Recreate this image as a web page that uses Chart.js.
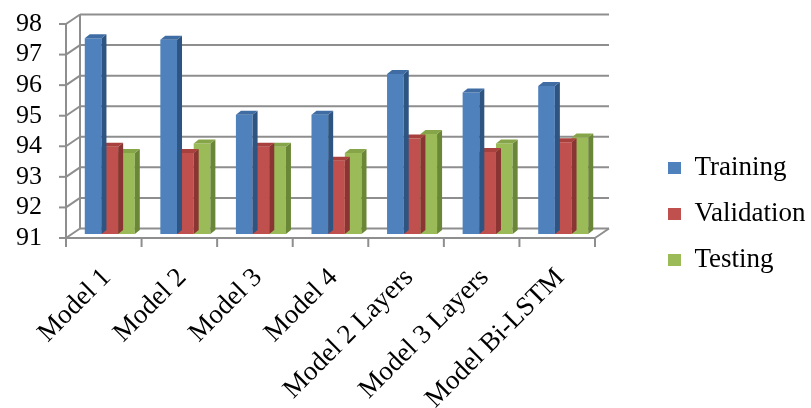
<!DOCTYPE html>
<html>
<head>
<meta charset="utf-8">
<script src="https://cdn.jsdelivr.net/npm/chart.js@4.4.1/dist/chart.umd.min.js"></script>
<style>
  html, body { margin: 0; padding: 0; background: #ffffff; }
  #wrap { width: 811px; height: 408px; }
</style>
</head>
<body>
<div id="wrap"><canvas id="c" width="811" height="408"></canvas></div>
<script>
const categories = ['Model 1', 'Model 2', 'Model 3', 'Model 4', 'Model 2 Layers', 'Model 3 Layers', 'Model Bi-LSTM'];
const seriesNames = ['Training', 'Validation', 'Testing'];
const training   = [97.40, 97.35, 94.90, 94.90, 96.23, 95.63, 95.84];
const validation = [93.85, 93.65, 93.85, 93.40, 94.12, 93.68, 94.00];
const testing    = [93.65, 93.96, 93.85, 93.65, 94.27, 93.96, 94.16];
const yMin = 91, yMax = 98, yStep = 1;

const frontColors = ['#4F81BD', '#C0504D', '#9BBB59'];
const topColors   = ['#3F6CA3', '#A8413E', '#86A548'];
const sideColors  = ['#2E5482', '#8A3533', '#6A8637'];

const FONT = "'Liberation Serif', 'Times New Roman', serif";
// 3D geometry offsets (pixels) relative to the bar plane
const FX = -6, FY = 4;     // front plane
const BX = 8, BY = -5.5;   // back wall
const DX = 5, DY = -4;     // bar depth

const frame3d = {
  id: 'frame3d',
  beforeLayout(chart) {
    const lg = chart.legend;
    if (lg && !lg.__patched) {
      const orig = lg.fit;
      lg.fit = function () { orig.call(this); this.width = 210; };
      lg.__patched = true;
    }
  },
  afterLayout(chart) {
    const lg = chart.legend;
    if (lg) {
      const pad = lg.options.labels.padding;
      lg.left = 668 - pad;
      lg.right = lg.left + lg.width;
    }
  },
  beforeDatasetsDraw(chart) {
    const ctx = chart.ctx;
    const ys = chart.scales.y, xs = chart.scales.x;
    const L = xs.left, R = xs.right;
    ctx.save();
    ctx.strokeStyle = '#8e8e8e';
    ctx.lineWidth = 2;
    ctx.lineCap = 'butt';
    const line = (x1, y1, x2, y2) => { ctx.beginPath(); ctx.moveTo(x1, y1); ctx.lineTo(x2, y2); ctx.stroke(); };
    for (let v = yMin; v <= yMax; v += yStep) {
      const y = ys.getPixelForValue(v);
      line(L + BX, y + BY, R + BX, y + BY);
      line(L + FX, y + FY, L + BX, y + BY);
      line(L + FX - 7, y + FY, L + FX, y + FY);
    }
    const y0 = ys.getPixelForValue(yMin), y1 = ys.getPixelForValue(yMax);
    line(L + FX, y0 + FY, L + FX, y1 + FY);
    line(L + BX, y0 + BY, L + BX, y1 + BY);
    line(L + FX, y0 + FY, R + FX, y0 + FY);
    line(R + FX, y0 + FY, R + BX, y0 + BY);
    const n = categories.length;
    for (let i = 0; i <= n; i++) {
      const x = L + i * (R - L) / n + FX;
      line(x, y0 + FY, x, y0 + FY + 9);
    }
    ctx.restore();
  },
  afterDatasetDraw(chart, args) {
    const ctx = chart.ctx;
    const di = args.index;
    const baseY = chart.scales.y.getPixelForValue(yMin);
    ctx.save();
    args.meta.data.forEach(el => {
      const p = el.getProps(['x', 'y', 'width'], true);
      const xl = p.x - p.width / 2, xr = p.x + p.width / 2;
      // side face
      ctx.fillStyle = sideColors[di];
      ctx.beginPath();
      ctx.moveTo(xr, p.y); ctx.lineTo(xr + DX, p.y + DY);
      ctx.lineTo(xr + DX, baseY + DY); ctx.lineTo(xr, baseY);
      ctx.closePath(); ctx.fill();
      // top face
      ctx.fillStyle = topColors[di];
      ctx.beginPath();
      ctx.moveTo(xl, p.y); ctx.lineTo(xl + DX, p.y + DY);
      ctx.lineTo(xr + DX, p.y + DY); ctx.lineTo(xr, p.y);
      ctx.closePath(); ctx.fill();
    });
    ctx.restore();
  }
};

const datasets = [training, validation, testing].map((d, i) => ({
  label: seriesNames[i],
  data: d,
  backgroundColor: frontColors[i],
  borderWidth: 0,
  categoryPercentage: 0.662,
  barPercentage: 1.0
}));

new Chart(document.getElementById('c'), {
  type: 'bar',
  data: { labels: categories, datasets },
  plugins: [frame3d],
  options: {
    responsive: false,
    animation: false,
    devicePixelRatio: 1,
    layout: { padding: { top: 20, right: 0, bottom: 0, left: 0 } },
    plugins: {
      legend: {
        position: 'right',
        align: 'center',
        labels: {
          boxWidth: 13,
          boxHeight: 12,
          padding: 19,
          color: '#000000',
          font: { family: FONT, size: 27 }
        }
      },
      tooltip: { enabled: false }
    },
    scales: {
      x: {
        grid: { display: false, drawTicks: false },
        border: { display: false },
        ticks: {
          autoSkip: false,
          maxRotation: 45,
          minRotation: 45,
          padding: 28,
          labelOffset: -3,
          color: '#000000',
          font: { family: FONT, size: 27 }
        },
        afterFit(s) { s.height = 174; s.paddingLeft = 0; s.paddingRight = 0; }
      },
      y: {
        min: yMin,
        max: yMax,
        grid: { display: false, drawTicks: false },
        border: { display: false },
        ticks: {
          autoSkip: false,
          stepSize: yStep,
          padding: 30,
          labelOffset: 4,
          color: '#000000',
          font: { family: FONT, size: 26 }
        },
        afterFit(s) { s.width = 72; s.paddingTop = 12; s.paddingBottom = 0; }
      }
    }
  }
});
</script>
</body>
</html>
